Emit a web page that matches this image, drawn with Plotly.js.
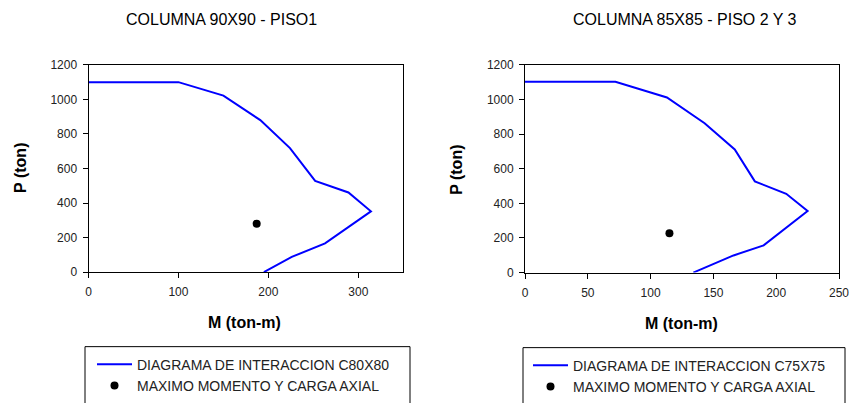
<!DOCTYPE html>
<html>
<head>
<meta charset="utf-8">
<script src="https://cdn.plot.ly/plotly-3.0.1.min.js"></script>
<style>html,body{margin:0;padding:0;background:#fff;}#chart{width:850px;height:403px;}</style>
</head>
<body>
<div id="chart"></div>
<script>
// Left chart: COLUMNA 90X90 - PISO1
const leftTitle = "COLUMNA 90X90 - PISO1";
const leftM = [0, 100, 150, 191, 224, 252, 289, 314, 263, 226, 195];
const leftP = [1100, 1100, 1022, 880, 718, 528, 461, 352, 166, 88, 0];
const leftPointM = [187];
const leftPointP = [280];
const leftCurveName = "DIAGRAMA DE INTERACCION C80X80";

// Right chart: COLUMNA 85X85 - PISO 2 Y 3
const rightTitle = "COLUMNA 85X85 - PISO 2 Y 3";
const rightM = [0, 72, 113, 143, 167, 183, 208, 225, 190, 166, 134];
const rightP = [1102, 1102, 1012, 863, 711, 527, 455, 356, 157, 99, 0];
const rightPointM = [115];
const rightPointP = [227];
const rightCurveName = "DIAGRAMA DE INTERACCION C75X75";

const pointName = "MAXIMO MOMENTO Y CARGA AXIAL";
const xTitle = "M (ton-m)";
const yTitle = "P (ton)";
const leftXTicks = [0, 100, 200, 300];
const rightXTicks = [0, 50, 100, 150, 200, 250];
const yTicks = [0, 200, 400, 600, 800, 1000, 1200];

const W = 850, H = 403;
const px = v => v / W, py = v => 1 - v / H;
const FONT = "Liberation Sans, Arial, sans-serif";

const traces = [
  {x: leftM, y: leftP, mode: "lines", name: leftCurveName, line: {color: "#0000ff", width: 2}, xaxis: "x", yaxis: "y", legend: "legend"},
  {x: leftPointM, y: leftPointP, mode: "markers", name: pointName, marker: {color: "#000", size: 8}, xaxis: "x", yaxis: "y", legend: "legend"},
  {x: rightM, y: rightP, mode: "lines", name: rightCurveName, line: {color: "#0000ff", width: 2}, xaxis: "x2", yaxis: "y2", legend: "legend2"},
  {x: rightPointM, y: rightPointP, mode: "markers", name: pointName, marker: {color: "#000", size: 8}, xaxis: "x2", yaxis: "y2", legend: "legend2"}
];

const axBase = {
  showgrid: false, zeroline: false, showline: true, mirror: true,
  linecolor: "#000", linewidth: 1, ticks: "outside", ticklen: 5, tickcolor: "#000",
  tickfont: {family: FONT, size: 12, color: "#222"}, fixedrange: true
};

function ann(text, x, y, size, angle) {
  return {text: text, x: px(x), y: py(y), xref: "paper", yref: "paper", xanchor: "center", yanchor: "middle",
          showarrow: false, textangle: angle || 0, font: {family: FONT, size: size, color: "#000"}};
}

const legFont = {family: FONT, size: 14, color: "#222"};

const layout = {
  width: W, height: H,
  margin: {l: 0, r: 0, t: 0, b: 0},
  paper_bgcolor: "#fff", plot_bgcolor: "#fff",
  font: {family: FONT},
  showlegend: true,
  xaxis: Object.assign({}, axBase, {domain: [px(88.5), px(403.3)], range: [0, 350], tickvals: leftXTicks, anchor: "y", ticklabelstandoff: 4}),
  yaxis: Object.assign({}, axBase, {domain: [py(275.5), py(65.7)], range: [0, 1200], tickvals: yTicks, anchor: "x", ticklabelstandoff: 3}),
  xaxis2: Object.assign({}, axBase, {domain: [px(525), px(839)], range: [0, 250], tickvals: rightXTicks, anchor: "y2", ticklabelstandoff: 4}),
  yaxis2: Object.assign({}, axBase, {domain: [py(276), py(65.7)], range: [0, 1200], tickvals: yTicks, anchor: "x2", ticklabelstandoff: 3}),
  legend: {x: px(92), y: py(353), xanchor: "left", yanchor: "top", bgcolor: "rgba(0,0,0,0)", borderwidth: 0,
           font: legFont, itemwidth: 35, tracegroupgap: 0},
  legend2: {x: px(528), y: py(354), xanchor: "left", yanchor: "top", bgcolor: "rgba(0,0,0,0)", borderwidth: 0,
           font: legFont, itemwidth: 35, tracegroupgap: 0},
  shapes: [
    {type: "rect", xref: "paper", yref: "paper", x0: px(85), x1: px(410), y0: -0.02, y1: py(351), line: {color: "#000", width: 1}},
    {type: "rect", xref: "paper", yref: "paper", x0: px(523), x1: px(845), y0: -0.02, y1: py(352), line: {color: "#000", width: 1}}
  ],
  annotations: [
    ann(leftTitle, 221, 20, 16),
    ann(rightTitle, 685, 20, 16),
    ann("<b>" + xTitle + "</b>", 244, 327, 16),
    ann("<b>" + xTitle + "</b>", 681, 328, 16),
    ann("<b>" + yTitle + "</b>", 21, 170, 16, -90),
    ann("<b>" + yTitle + "</b>", 457, 172, 16, -90)
  ]
};

Plotly.newPlot("chart", traces, layout, {displayModeBar: false, staticPlot: true});
</script>
</body>
</html>
